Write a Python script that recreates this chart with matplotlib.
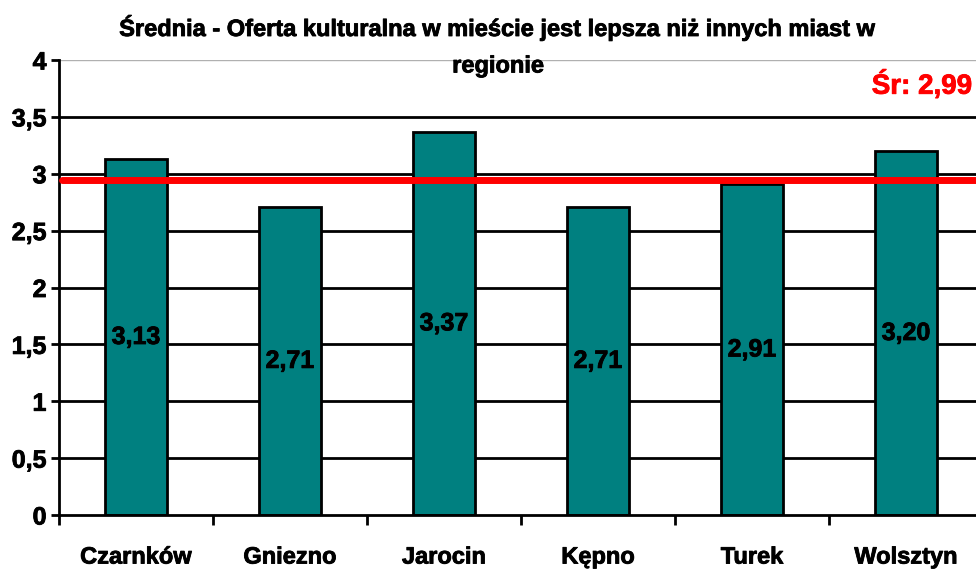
import matplotlib
matplotlib.use("Agg")
import matplotlib.pyplot as plt
from matplotlib.ticker import FuncFormatter, MultipleLocator
import matplotlib.patheffects as pe
import numpy as np

categories = ["Czarnków", "Gniezno", "Jarocin", "Kępno", "Turek", "Wolsztyn"]
values = [3.13, 2.71, 3.37, 2.71, 2.91, 3.20]
avg_label = "Śr: 2,99"
avg_line = 2.945
title = "Średnia - Oferta kulturalna w mieście jest lepsza niż innych miast w\nregionie"

plt.rcParams['font.family'] = ['Liberation Sans', 'DejaVu Sans']
plt.rcParams['font.weight'] = 'bold'

heavy = [pe.withStroke(linewidth=0.6, foreground="black")]
heavy_red = [pe.withStroke(linewidth=0.6, foreground="#ff0000")]

W, H = 976, 570
fig = plt.figure(figsize=(W/100, H/100), dpi=100)
ax = fig.add_axes([59/W, (H-515)/H, (983-59)/W, 455/H])

x = np.arange(len(categories))
ax.bar(x, values, width=0.4, color="#008080", edgecolor="black", linewidth=2, zorder=3)

ax.set_xlim(-0.5, len(categories)-0.5)
ax.set_ylim(0, 4)
ax.yaxis.set_major_locator(MultipleLocator(0.5))
ax.yaxis.set_major_formatter(FuncFormatter(lambda v, p: (f"{v:g}").replace(".", ",")))

for yv in np.arange(0.5, 4.0, 0.5):
    ax.axhline(yv, color="black", linewidth=2, zorder=1)
ax.axhline(4, color="#b0b0b0", linewidth=1, zorder=1)

for s in ["top", "right"]:
    ax.spines[s].set_visible(False)
ax.spines["left"].set_linewidth(2)
ax.spines["bottom"].set_linewidth(2)
ax.spines["left"].set_zorder(4)
ax.spines["bottom"].set_zorder(4)

ax.set_xticks(np.arange(-0.5, len(categories)), minor=False)
ax.set_xticklabels([])
ax.set_xticks(x, minor=True)
ax.set_xticklabels(categories, minor=True, fontsize=17, fontweight='bold')
ax.tick_params(axis='x', which='major', length=7, width=2, direction='out')
ax.tick_params(axis='x', which='minor', length=0, pad=22)
ax.tick_params(axis='y', length=6, width=2, direction='out', labelsize=18, pad=3)
for lab in ax.get_yticklabels() + ax.get_xticklabels(minor=True):
    lab.set_fontweight('bold')
    lab.set_path_effects(heavy)

for xi, v in zip(x, values):
    ax.text(xi, v/2, f"{v:.2f}".replace(".", ","), ha="center", va="center",
            fontsize=18, fontweight="bold", zorder=5, path_effects=heavy)

ax.plot([-0.48, len(categories)-0.5], [avg_line, avg_line], color="#ff0000", linewidth=5,
        zorder=6, solid_capstyle='round', clip_on=False)

fig.text(972/W, 1-85/H, avg_label, color="#ff0000", fontsize=20, fontweight="bold",
         ha="right", va="center", path_effects=heavy_red)
fig.text(498/W, 1-46/H, title, ha="center", va="center", fontsize=17,
         fontweight="bold", linespacing=1.75, path_effects=heavy)

fig.savefig("out.png", dpi=100)
